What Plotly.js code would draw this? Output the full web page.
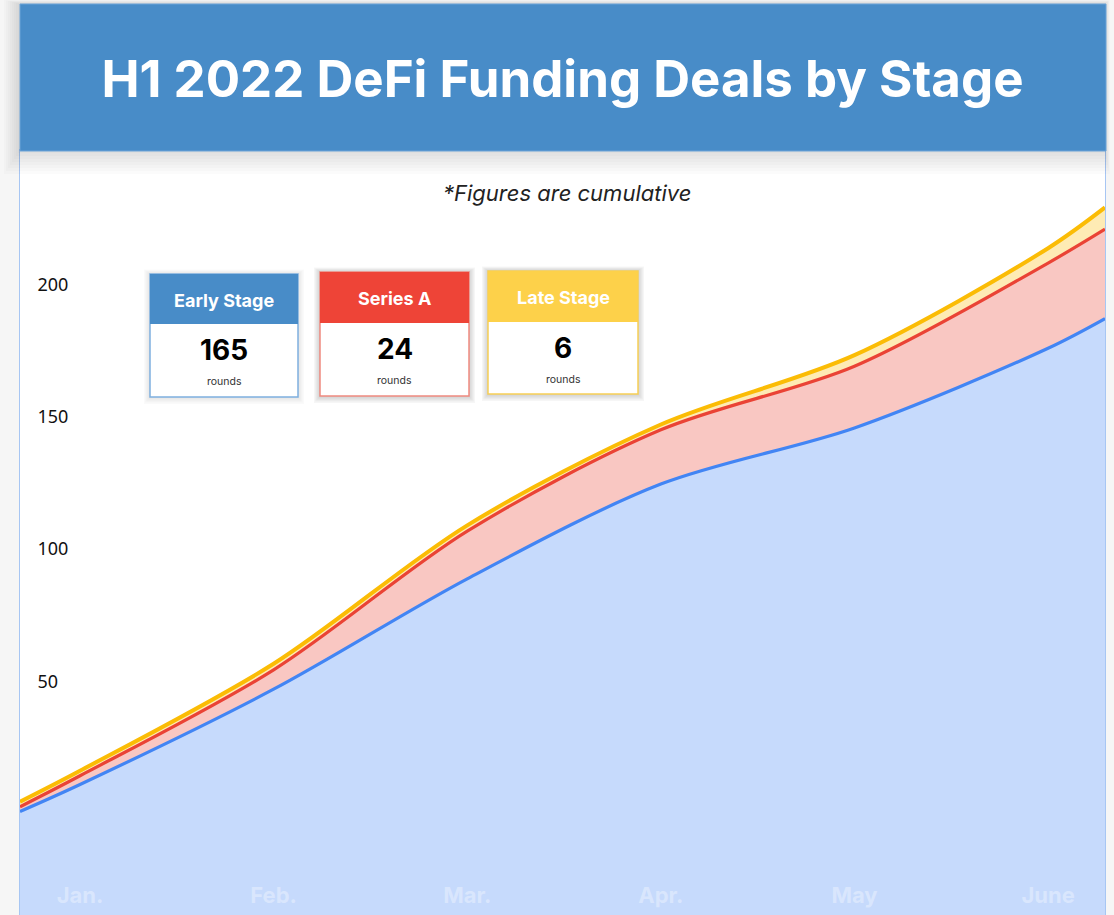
<!DOCTYPE html>
<html>
<head>
<meta charset="utf-8">
<script src="https://cdn.plot.ly/plotly-3.0.1.min.js"></script>
<style>
  html, body { margin: 0; padding: 0; background: #f6f6f6; }
  #chart { width: 1114px; height: 915px; }
</style>
</head>
<body>
<div id="chart"></div>
<script>
// ---- data (cumulative) ----
const monthLabels = ["Jan.", "Feb.", "Mar.", "Apr.", "May", "June"];
const monthPos = [0, 1, 2, 3, 4, 5];
// sample positions in month units (edges of the plot plus each month)
const xPos = [-0.31, 0, 1, 2, 3, 4, 5, 5.294];
// Early Stage (bottom layer)
const earlyStage = [0.8, 11, 47, 88.7, 124.5, 145.7, 175.8, 187];
// Series A (stacked on top of Early Stage)
const seriesA = [1.8, 3.3, 7.3, 18.0, 20.5, 23.3, 32.2, 33.8];
// Late Stage (stacked on top)
const lateStage = [1.9, 1.9, 2.3, 2.2, 2.0, 4.2, 5.6, 8.2];

const yTicks = [50, 100, 150, 200];
const cardNames = ["Early Stage", "Series A", "Late Stage"];
const cardCounts = ["165", "24", "6"];

// ---- styling ----
const FONT = "Inter, 'Open Sans', sans-serif";
const W = 1114, H = 915;
const PL = 20, PR = 1105, PT = 150, PB = 915;
const px = x => (x - PL) / (PR - PL);
const py = y => (PB - y) / (PB - PT);

const lineCols = ["#4285F4", "#EA4335", "#FBBC05"];
const fillCols = ["#c6dafc", "#f9c7c2", "#feebb4"];

const traces = [earlyStage, seriesA, lateStage].map((vals, i) => ({
  type: "scatter",
  mode: "lines",
  x: xPos,
  y: vals,
  name: cardNames[i],
  stackgroup: "one",
  line: { color: lineCols[i], width: i === 2 ? 4 : 3.2, shape: "spline", smoothing: 0.9 },
  fillcolor: fillCols[i],
  hoverinfo: "skip"
}));

const shapes = [];
const annotations = [];

// fill below zero down to the bottom of the plot (area keeps filling to the edge)
shapes.push({ type: "rect", xref: "paper", yref: "y", x0: 0, x1: 1, y0: -60, y1: 0.5,
  fillcolor: fillCols[0], line: { width: 0 }, layer: "below" });

// header shadow
for (let k = 1; k <= 8; k++) {
  shapes.push({ type: "rect", xref: "paper", yref: "paper",
    x0: px(20 - k * 2), x1: px(1105 + k * 0.6), y0: py(150 + k * 3), y1: py(4 - k * 0.5),
    fillcolor: "rgba(0,0,0,0.016)", line: { width: 0 }, layer: "above" });
}
// header band
shapes.push({ type: "rect", xref: "paper", yref: "paper",
  x0: px(20), x1: px(1106), y0: py(151), y1: py(4),
  fillcolor: "#488cc8", line: { color: "#6aa3d8", width: 1 }, layer: "above" });

// stat cards
const cards = [
  { x0: 150, x1: 298, y0: 274, yh: 324, y1: 397, head: "#488cc8", border: "#7fb0e0", shadow: 0.02 },
  { x0: 320, x1: 469, y0: 272, yh: 323, y1: 396, head: "#ee4437", border: "#f08a80", shadow: 0.035 },
  { x0: 488, x1: 638, y0: 271, yh: 322, y1: 394, head: "#fdd14a", border: "#f8cf55", shadow: 0.035 }
];
cards.forEach((c, i) => {
  for (let k = 1; k <= 5; k++) {
    shapes.push({ type: "rect", xref: "paper", yref: "paper",
      x0: px(c.x0 - k * 1.2), x1: px(c.x1 + k * 1.2), y0: py(c.y1 + k * 1.4), y1: py(c.y0 - k * 0.9),
      fillcolor: `rgba(0,0,0,${c.shadow})`, line: { width: 0 }, layer: "above" });
  }
  shapes.push({ type: "rect", xref: "paper", yref: "paper",
    x0: px(c.x0), x1: px(c.x1), y0: py(c.y1), y1: py(c.y0),
    fillcolor: "#ffffff", line: { color: c.border, width: 1.5 }, layer: "above" });
  shapes.push({ type: "rect", xref: "paper", yref: "paper",
    x0: px(c.x0), x1: px(c.x1), y0: py(c.yh), y1: py(c.y0),
    fillcolor: c.head, line: { width: 0 }, layer: "above" });
  const cx = px((c.x0 + c.x1) / 2);
  annotations.push({ xref: "paper", yref: "paper", x: cx, y: py((c.y0 + c.yh) / 2 + 1),
    text: "<b>" + cardNames[i] + "</b>", showarrow: false, xanchor: "center", yanchor: "middle",
    font: { family: FONT, size: 18, color: "#ffffff" } });
  annotations.push({ xref: "paper", yref: "paper", x: cx, y: py(c.yh + 26),
    text: "<b>" + cardCounts[i] + "</b>", showarrow: false, xanchor: "center", yanchor: "middle",
    font: { family: FONT, size: 28, color: "#000000" } });
  annotations.push({ xref: "paper", yref: "paper", x: cx, y: py(c.yh + 57),
    text: "rounds", showarrow: false, xanchor: "center", yanchor: "middle",
    font: { family: FONT, size: 10.5, color: "#333333" } });
});

// subtitle
annotations.push({ xref: "paper", yref: "paper", x: px(567), y: py(193),
  text: "<i>*Figures are cumulative</i>", showarrow: false, xanchor: "center", yanchor: "middle",
  font: { family: FONT, size: 22, color: "#222222" } });

const layout = {
  width: W, height: H,
  margin: { l: PL, r: W - PR, t: PT, b: 0, pad: 0 },
  paper_bgcolor: "#f6f6f6",
  plot_bgcolor: "#ffffff",
  showlegend: false,
  title: {
    text: "<b>H1 2022 DeFi Funding Deals by Stage</b>",
    font: { family: FONT, size: 51, color: "#ffffff" },
    xref: "paper", x: 0.5, xanchor: "center",
    yref: "container", y: 1 - 79 / H, yanchor: "middle"
  },
  xaxis: {
    range: [-0.31, 5.294],
    tickvals: monthPos, ticktext: monthLabels,
    ticklabelposition: "inside", ticks: "",
    showgrid: false, zeroline: false,
    showline: true, linecolor: "#a7c6f3", linewidth: 1, mirror: true,
    tickfont: { family: FONT, size: 22, color: "rgba(255,255,255,0.35)", weight: 700 },
    ticklabelstandoff: 9,
    fixedrange: true
  },
  yaxis: {
    range: [-38.3, 250.7],
    tickvals: yTicks,
    ticklabelposition: "inside", ticks: "",
    ticklabelstandoff: 18,
    showgrid: false, zeroline: false,
    showline: true, linecolor: "#a7c6f3", linewidth: 1, mirror: true,
    tickfont: { family: "'Noto Sans', sans-serif", size: 18, color: "#111111" },
    fixedrange: true
  },
  shapes: shapes,
  annotations: annotations
};

Plotly.newPlot("chart", traces, layout, { displayModeBar: false, staticPlot: true });
</script>
</body>
</html>
